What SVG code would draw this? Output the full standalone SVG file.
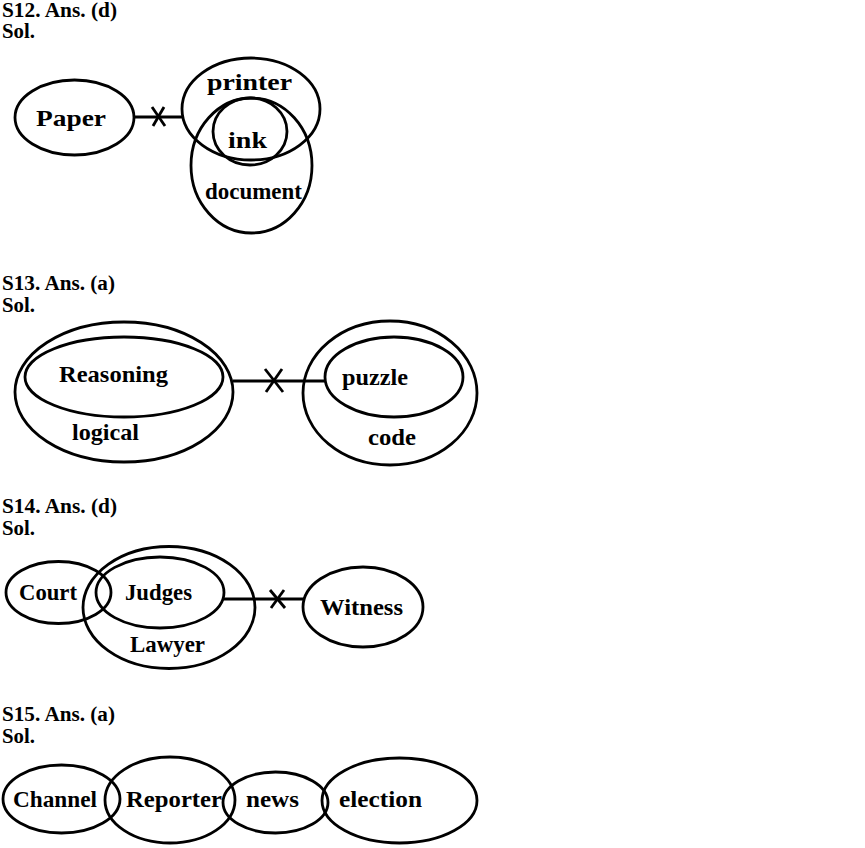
<svg xmlns="http://www.w3.org/2000/svg" width="865" height="848" viewBox="0 0 865 848">
<style>
.e{fill:none;stroke:#000;stroke-width:2.8}
.l{stroke:#000;stroke-width:2.8;fill:none}
.h{font-family:"Liberation Serif","Times New Roman",serif;font-weight:bold;font-size:20px;fill:#000}
.t{font-family:"Liberation Serif","Times New Roman",serif;font-weight:bold;font-size:24px;fill:#000;text-anchor:middle}
</style>
<rect width="865" height="848" fill="#fff"/>
<g id="headers">
<text class="h" x="2" y="17" textLength="115" lengthAdjust="spacingAndGlyphs">S12. Ans. (d)</text>
<text class="h" x="2" y="38" textLength="33" lengthAdjust="spacingAndGlyphs">Sol.</text>
<text class="h" x="2" y="290" textLength="113" lengthAdjust="spacingAndGlyphs">S13. Ans. (a)</text>
<text class="h" x="2" y="312" textLength="33" lengthAdjust="spacingAndGlyphs">Sol.</text>
<text class="h" x="2" y="513" textLength="115" lengthAdjust="spacingAndGlyphs">S14. Ans. (d)</text>
<text class="h" x="2" y="535" textLength="33" lengthAdjust="spacingAndGlyphs">Sol.</text>
<text class="h" x="2" y="721" textLength="113" lengthAdjust="spacingAndGlyphs">S15. Ans. (a)</text>
<text class="h" x="2" y="743" textLength="33" lengthAdjust="spacingAndGlyphs">Sol.</text>
</g>
<g id="connectors">
<line class="l" x1="134" y1="117" x2="182" y2="117"/>
<line class="l" x1="152" y1="107" x2="165" y2="126"/>
<line class="l" x1="164" y1="107" x2="153" y2="126"/>
<line class="l" x1="233" y1="381" x2="325" y2="381"/>
<line class="l" x1="265" y1="369" x2="283" y2="392"/>
<line class="l" x1="282" y1="369" x2="266" y2="392"/>
<line class="l" x1="224" y1="599" x2="304" y2="599"/>
<line class="l" x1="270" y1="590" x2="285" y2="608"/>
<line class="l" x1="284" y1="590" x2="271" y2="608"/>
</g>
<g id="paper"><ellipse class="e" cx="74.5" cy="117.5" rx="59.5" ry="37.5"/><text class="t" x="71" y="126" font-size="25" textLength="70" lengthAdjust="spacingAndGlyphs">Paper</text></g>
<g id="printer"><ellipse class="e" cx="251" cy="109" rx="69" ry="51"/><text class="t" x="249.5" y="90" font-size="26" textLength="85" lengthAdjust="spacingAndGlyphs">printer</text></g>
<g id="document"><ellipse class="e" cx="251.5" cy="165.5" rx="60.5" ry="67.5"/><text class="t" x="253.5" y="199" font-size="21" textLength="97" lengthAdjust="spacingAndGlyphs">document</text></g>
<g id="ink"><ellipse class="e" cx="250" cy="131.5" rx="37" ry="33.5"/><text class="t" x="247.5" y="148" font-size="27" textLength="39" lengthAdjust="spacingAndGlyphs">ink</text></g>
<g id="logical"><ellipse class="e" cx="124" cy="392" rx="109" ry="70"/><text class="t" x="105.5" y="440" textLength="67" lengthAdjust="spacingAndGlyphs">logical</text></g>
<g id="reasoning"><ellipse class="e" cx="124" cy="377" rx="99" ry="40"/><text class="t" x="113.5" y="382" textLength="109" lengthAdjust="spacingAndGlyphs">Reasoning</text></g>
<g id="code"><ellipse class="e" cx="390" cy="393" rx="87" ry="72"/><text class="t" x="392" y="445" textLength="48" lengthAdjust="spacingAndGlyphs">code</text></g>
<g id="puzzle"><ellipse class="e" cx="394" cy="377" rx="69" ry="40"/><text class="t" x="375" y="385" textLength="66" lengthAdjust="spacingAndGlyphs">puzzle</text></g>
<g id="court"><ellipse class="e" cx="58.5" cy="592.5" rx="52.5" ry="31"/><text class="t" x="48" y="600" textLength="58" lengthAdjust="spacingAndGlyphs">Court</text></g>
<g id="lawyer"><ellipse class="e" cx="169" cy="607.5" rx="86" ry="61"/><text class="t" x="167.5" y="652" textLength="75" lengthAdjust="spacingAndGlyphs">Lawyer</text></g>
<g id="judges"><ellipse class="e" cx="160" cy="592.5" rx="64" ry="35.5"/><text class="t" x="158.5" y="600" textLength="67" lengthAdjust="spacingAndGlyphs">Judges</text></g>
<g id="witness"><ellipse class="e" cx="363" cy="607" rx="60" ry="40"/><text class="t" x="361.5" y="615" textLength="83" lengthAdjust="spacingAndGlyphs">Witness</text></g>
<g id="channel"><ellipse class="e" cx="61.5" cy="799" rx="58.5" ry="34"/><text class="t" x="55" y="807" textLength="84" lengthAdjust="spacingAndGlyphs">Channel</text></g>
<g id="reporter"><ellipse class="e" cx="170" cy="800" rx="65" ry="43"/><text class="t" x="174" y="807" textLength="96" lengthAdjust="spacingAndGlyphs">Reporter</text></g>
<g id="news"><ellipse class="e" cx="275.5" cy="802.5" rx="52.5" ry="30.5"/><text class="t" x="272.5" y="807" textLength="53" lengthAdjust="spacingAndGlyphs">news</text></g>
<g id="election"><ellipse class="e" cx="399.5" cy="800.5" rx="77.5" ry="42.5"/><text class="t" x="380.5" y="807" textLength="83" lengthAdjust="spacingAndGlyphs">election</text></g>
</svg>
